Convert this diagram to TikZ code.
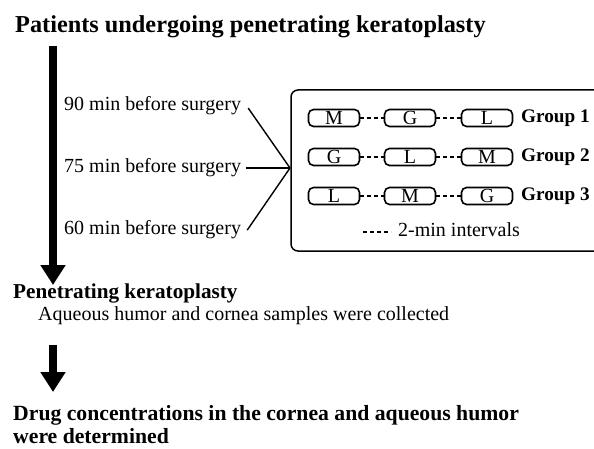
\documentclass[tikz,border=0pt]{standalone}
\usepackage{fontspec}
\setmainfont{Liberation Serif}
\usetikzlibrary{arrows.meta}
\begin{document}
\begin{tikzpicture}[x=1pt,y=-1pt,
  txt/.style={inner sep=0pt,anchor=base west,font=\fontsize{20}{24}\selectfont},
  head/.style={inner sep=0pt,anchor=base west,font=\fontsize{21.7}{26}\selectfont\bfseries},
  pill/.style={draw,line width=1.6pt,rounded corners=5pt,minimum width=51pt,minimum height=17pt,inner sep=0pt,font=\fontsize{20}{22}\selectfont},
  grp/.style={inner sep=0pt,anchor=west,font=\fontsize{19.2}{22}\selectfont\bfseries},
  gap/.style={line width=1.5pt,dash pattern=on 4pt off 3pt},
  bigarrow/.style={line width=8pt,-{Triangle[width=24pt,length=20pt]}},
  conn/.style={line width=1.4pt}]
\useasboundingbox (0,0) rectangle (594,449);

% headings
\node[head,font=\fontsize{24.3}{28}\selectfont\bfseries] (t1) at (15,33) {Patients undergoing penetrating keratoplasty};
\node[head,font=\fontsize{21.2}{26}\selectfont\bfseries] (t2) at (13,298) {Penetrating keratoplasty};
\node[txt] (t2b) at (38,320) {Aqueous humor and cornea samples were collected};
\node[head] (t3) at (13,420) {Drug concentrations in the cornea and aqueous humor};
\node[head] (t3b) at (13,443) {were determined};

% arrows
\coordinate (a1s) at (53,46);
\coordinate (a1e) at (53,285);
\coordinate (a2s) at (53,345);
\coordinate (a2e) at (53,392);
\draw[bigarrow] (a1s) -- (a1e);
\draw[bigarrow] (a2s) -- (a2e);

% time labels
\node[txt] (m90) at (64,111) {90 min before surgery};
\node[txt] (m75) at (64,173) {75 min before surgery};
\node[txt] (m60) at (64,234) {60 min before surgery};
\coordinate (join) at (290,168);
\draw[conn] ([xshift=7pt,yshift=-2pt]m90.east) -- (join);
\draw[conn] ([xshift=5pt]m75.east |- join) -- (join);
\draw[conn] ([xshift=6pt,yshift=-1pt]m60.east) -- (join);

% box (right side runs off the page)
\draw[line width=1.5pt,rounded corners=7pt] (600,90) -- (291,90) -- (291,251) -- (600,251);

% rows
\foreach \r/\y/\a/\b/\c in {1/118/M/G/L, 2/157/G/L/M, 3/196/L/M/G}{
  \node[pill] (p\r a) at (334,\y) {\a};
  \node[pill] (p\r b) at (410,\y) {\b};
  \node[pill] (p\r c) at (487,\y) {\c};
  \draw[gap] (p\r a.east) -- (p\r b.west);
  \draw[gap] (p\r b.east) -- (p\r c.west);
  \node[grp] (g\r) at (521,\y) {Group \r};
}

% legend
\coordinate (l1) at (363,232);
\coordinate (l2) at (391,232);
\draw[gap] (l1) -- (l2);
\node[inner sep=0pt,anchor=west,font=\fontsize{20}{22}\selectfont] (leg) at (398,230) {2-min intervals};
\end{tikzpicture}
\end{document}
